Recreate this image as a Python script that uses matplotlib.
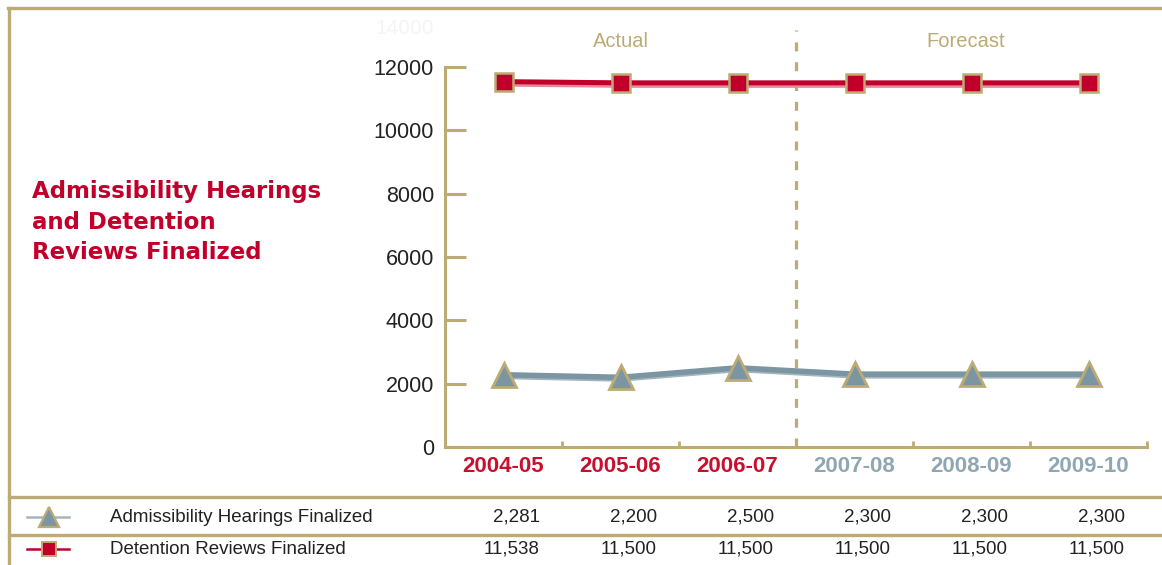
import matplotlib
matplotlib.use("Agg")
import matplotlib.pyplot as plt
import matplotlib.patheffects as pe
from matplotlib.lines import Line2D
from matplotlib.transforms import blended_transform_factory

# ---- data -----------------------------------------------------------------
years = ["2004-05", "2005-06", "2006-07", "2007-08", "2008-09", "2009-10"]
n_actual = 3  # first three fiscal years are actuals, the rest forecasts
hearings = [2281, 2200, 2500, 2300, 2300, 2300]
reviews = [11538, 11500, 11500, 11500, 11500, 11500]
series_names = ["Admissibility Hearings Finalized", "Detention Reviews Finalized"]
y_ticks = [0, 2000, 4000, 6000, 8000, 10000, 12000]
phase_labels = ["Actual", "Forecast"]
title = "Admissibility Hearings\nand Detention\nReviews Finalized"

# ---- style ----------------------------------------------------------------
GOLD = "#bcab74"
RED = "#c0002b"
PINK = "#e28a9a"
SLATE = "#7b95a2"
SLATE_LIGHT = "#a3b6c0"
ACTUAL_TXT = "#c8102e"
FORECAST_TXT = "#8fa7b3"
TEXT = "#222222"
SANS = ["Liberation Sans", "DejaVu Sans"]

W, H = 1162, 565
fig = plt.figure(figsize=(W / 100, H / 100), dpi=100)
fig.patch.set_facecolor("white")


def fx(px):
    return px / W


def fy(py):
    return 1 - py / H


ax = fig.add_axes([fx(445), fy(447), (1147 - 445) / W, (447 - 67) / H])
ax.set_facecolor("none")

x = [i + 0.5 for i in range(len(years))]
ax.set_xlim(0, len(years))
ax.set_ylim(y_ticks[0], y_ticks[-1])

for side in ("top", "right"):
    ax.spines[side].set_visible(False)
for side in ("left", "bottom"):
    ax.spines[side].set_color(GOLD)
    ax.spines[side].set_linewidth(2.2)

# y axis: ticks pointing into the plot
ax.set_yticks(y_ticks)
ax.set_yticklabels([str(t) for t in y_ticks], family=SANS, fontsize=15.5, color=TEXT)
ax.tick_params(axis="y", direction="in", length=15, width=2.2, color=GOLD, pad=8)

# x axis: short ticks at category boundaries, labels at category centres
ax.set_xticks(range(1, len(years) + 1))
ax.set_xticklabels([])
ax.tick_params(axis="x", which="major", direction="in", length=4.5, width=2, color=GOLD)
ax.set_xticks(x, minor=True)
ax.set_xticklabels(years, minor=True, family=SANS, fontsize=16, fontweight="bold")
ax.tick_params(axis="x", which="minor", length=0, pad=6.5)
for i, lab in enumerate(ax.get_xticklabels(minor=True)):
    lab.set_color(ACTUAL_TXT if i < n_actual else FORECAST_TXT)

# divider between actual and forecast years
ax.axvline(n_actual, ymin=0, ymax=1.098, color=GOLD, lw=2.3,
           dashes=(2.8, 3.4), clip_on=False, zorder=2)
ax_mix = blended_transform_factory(ax.transData, ax.transAxes)
ax.text(n_actual / 2, 1.066, phase_labels[0], transform=ax_mix, ha="center",
        va="center", family=SANS, fontsize=14.5, color=GOLD)
ax.text((n_actual + len(years)) / 2 - 0.05, 1.066, phase_labels[1], transform=ax_mix,
        ha="center", va="center", family=SANS, fontsize=14.5, color=GOLD)

# series lines with a lighter lower edge
ax.plot(x, reviews, color=RED, lw=3.6, solid_capstyle="butt", zorder=3,
        path_effects=[pe.SimpleLineShadow(offset=(0, -1.8), shadow_color=PINK, alpha=1),
                      pe.Normal()])
ax.plot(x, hearings, color=SLATE, lw=4.0, solid_capstyle="butt", zorder=3,
        path_effects=[pe.SimpleLineShadow(offset=(0, -1.2), shadow_color=SLATE_LIGHT, alpha=1),
                      pe.Normal()])
ax.plot(x, reviews, ls="none", marker="s", ms=13.5, mfc=RED, mec=GOLD, mew=1.8,
        zorder=4, clip_on=False)
ax.plot(x, hearings, ls="none", marker="^", ms=17.5, mfc=SLATE, mec=GOLD, mew=2,
        zorder=4, clip_on=False)

# faint top value on the scale
fig.text(fx(434), fy(29), "14000", ha="right", va="center", family=SANS,
         fontsize=15, color="#f4f4f4")

# chart heading
fig.text(fx(32), fy(180), title, ha="left", va="top", family="DejaVu Sans",
         fontweight="bold", fontsize=16.5, color=RED, linespacing=1.42)

# frame: top and left rules, table rules
for xs, ys, lw in [([fx(8), 1], [fy(7.5)] * 2, 2.4),
                   ([fx(8.5)] * 2, [fy(7.5), 0], 2.4),
                   ([fx(8.5), 1], [fy(497)] * 2, 2.4),
                   ([fx(8.5), 1], [fy(535)] * 2, 2.4)]:
    fig.add_artist(Line2D(xs, ys, transform=fig.transFigure, color=GOLD, lw=lw))

# data table beneath the chart
row_y = [517, 549]
row_values = [hearings, reviews]
row_styles = [dict(line=SLATE_LIGHT, marker="^", ms=14, mfc=SLATE, mew=1.6),
              dict(line=RED, marker="s", ms=10, mfc=RED, mew=1.4)]
tab_mix = blended_transform_factory(ax.transData, fig.transFigure)
for name, vals, ry, st in zip(series_names, row_values, row_y, row_styles):
    fig.add_artist(Line2D([fx(27), fx(69)], [fy(ry)] * 2, transform=fig.transFigure,
                          color=st["line"], lw=1.8))
    fig.add_artist(Line2D([fx(49)], [fy(ry)], transform=fig.transFigure, ls="none",
                          marker=st["marker"], ms=st["ms"], mfc=st["mfc"], mec=GOLD,
                          mew=st["mew"]))
    fig.text(fx(110), fy(ry), name, ha="left", va="center", family=SANS,
             fontsize=13.5, color=TEXT)
    for i, v in enumerate(vals):
        ax.text(i + 0.81, fy(ry), f"{v:,}", transform=tab_mix, ha="right",
                va="center", family=SANS, fontsize=13.5, color=TEXT)

fig.savefig("out.png", dpi=100, facecolor="white")
